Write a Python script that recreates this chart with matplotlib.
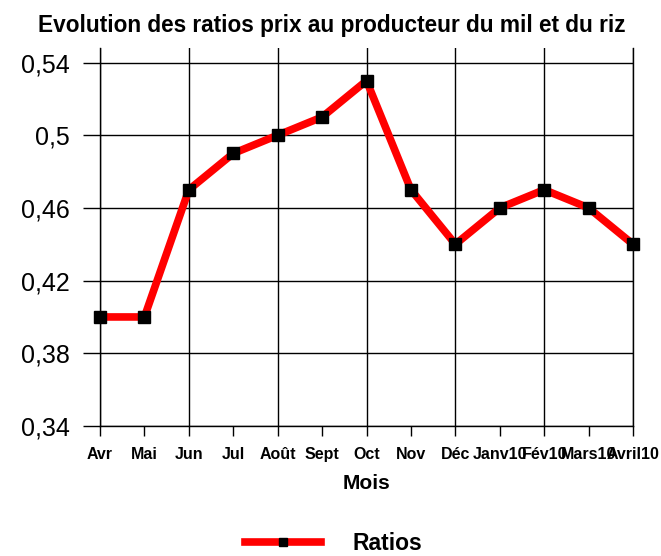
from matplotlib import pyplot as plt
from matplotlib import ticker

FIGSIZE = (661, 556)
DPI = 100

mois = ["Avr", "Mai", "Jun", "Jul", "Août", "Sept", "Oct", "Nov", "Déc",
        "Janv10", "Fév10", "Mars10", "Avril10"]
ratios = [0.40, 0.40, 0.47, 0.49, 0.50, 0.51, 0.53, 0.47, 0.44, 0.46, 0.47, 0.46, 0.44]
y_ticks = [0.34, 0.38, 0.42, 0.46, 0.50, 0.54]

plt.rcParams["font.family"] = ["Liberation Sans", "DejaVu Sans"]


def formatter_comma(x, pos=None):
    return ("%g" % round(x, 2)).replace(".", ",")


fig = plt.figure(figsize=(FIGSIZE[0]/DPI, FIGSIZE[1]/DPI), dpi=DPI)
ax = fig.add_axes([0.1513, 0.2338, 0.8064, 0.6799])

xs = list(range(len(mois)))
ax.plot(xs, ratios, color="#ff0000", lw=5.5, marker="s", ms=9,
        mfc="black", mec="black", label="Ratios", zorder=3, clip_on=False)

ax.set_xlim(0, len(mois) - 1)
ax.set_ylim(0.34, 0.548)

ax.xaxis.remove_overlapping_locs = False
ax.set_xticks(xs)
ax.set_xticklabels(mois, fontsize=11.5, fontweight="bold")
ax.set_xticks(xs[::2], minor=True)
ax.tick_params(axis="x", which="major", direction="out", length=7, width=1, pad=8)
ax.tick_params(axis="x", which="minor", length=0)

ax.set_yticks(y_ticks)
ax.yaxis.set_major_formatter(ticker.FuncFormatter(formatter_comma))
ax.tick_params(axis="y", direction="out", length=12, width=1, labelsize=18, pad=10)

ax.grid(axis="x", which="minor", color="black", lw=1)
ax.grid(axis="y", which="major", color="black", lw=1)
ax.set_axisbelow(True)

ax.spines["top"].set_visible(False)
for side in ["left", "bottom", "right"]:
    ax.spines[side].set_linewidth(1)

ax.set_xlabel("Mois", fontsize=15, fontweight="bold", labelpad=9)
fig.suptitle("Evolution des ratios prix au producteur du mil et du riz",
             x=0.502, y=0.975, fontsize=16.3, fontweight="bold")

leg = fig.legend(loc="lower center", bbox_to_anchor=(0.505, -0.036), frameon=False,
                 prop={"weight": "bold", "size": 16.5}, handlelength=3.3,
                 markerscale=0.6, handletextpad=1.4)

plt.savefig("out.png", dpi=DPI)
